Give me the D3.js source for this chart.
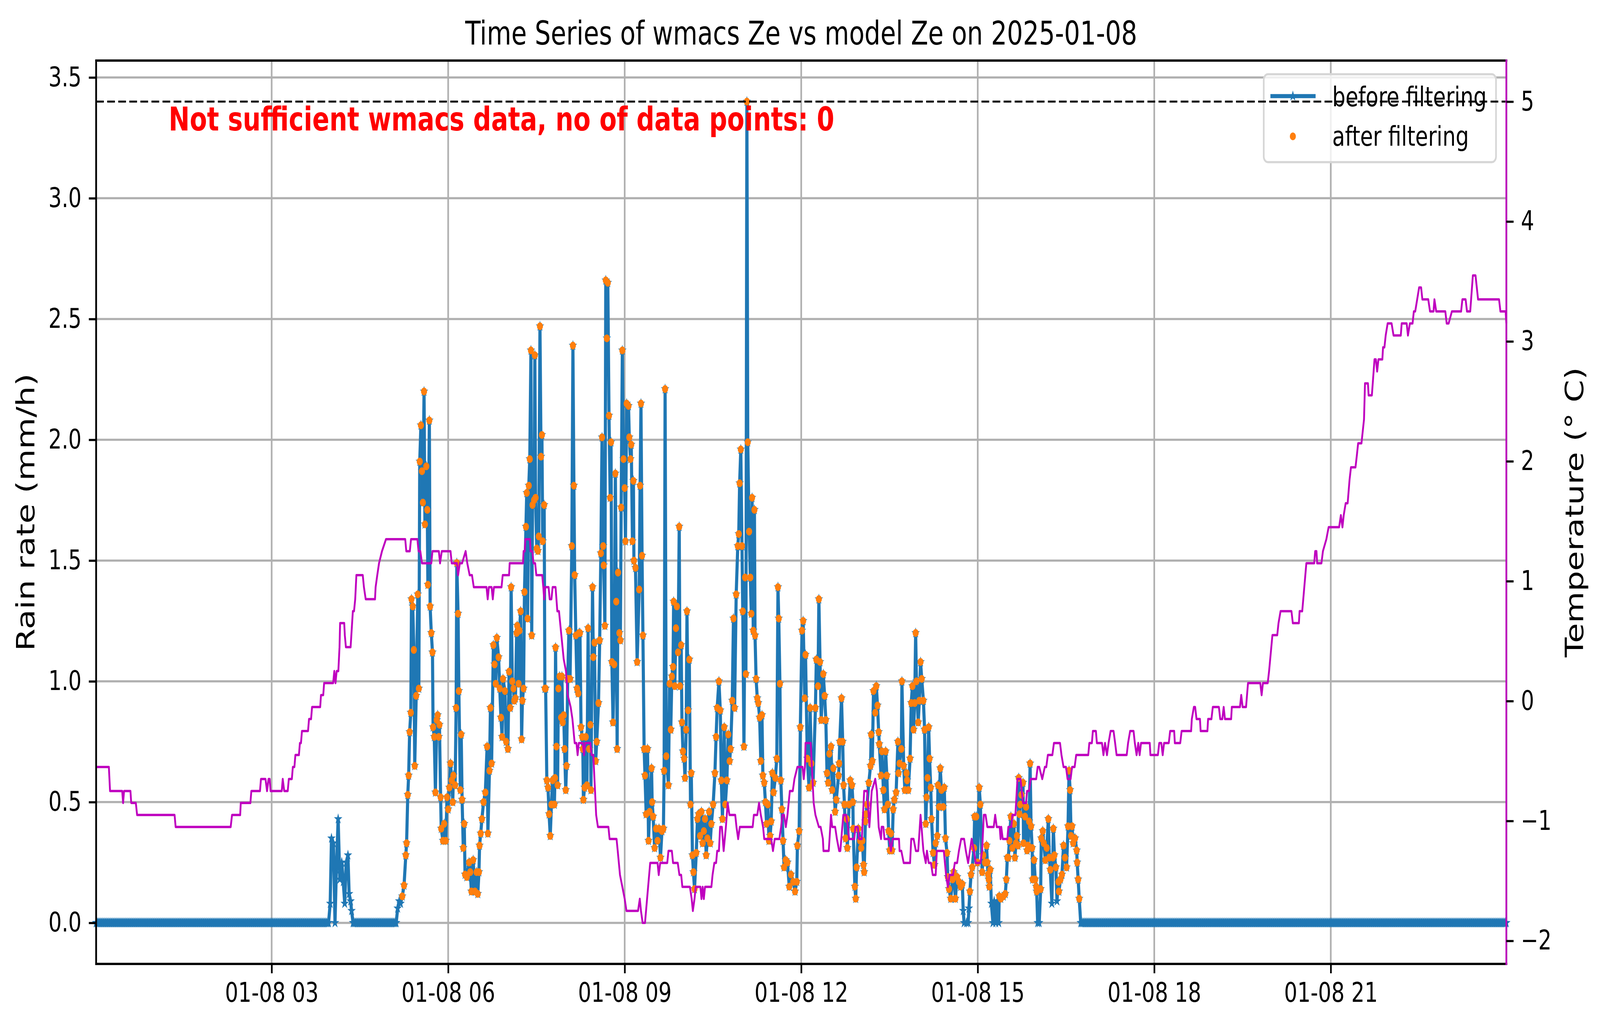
<!DOCTYPE html>
<html>
<head>
<meta charset="utf-8">
<script src="https://cdn.jsdelivr.net/npm/d3@7"></script>
<style>
  html, body { margin: 0; padding: 0; background: #fff; overflow: hidden; }
  #chart svg { display: block; width: 100vw; height: 100vh; }
  text { font-family: "DejaVu Sans", sans-serif; }
</style>
</head>
<body>
<div id="chart"></div>
<script>

// ---- data (minutes after midnight, 2025-01-08) ----

var dayStart = new Date(2025, 0, 8, 0, 0, 0);
var timeDomain = [1, 1439];

// stretches where the gauge reads exactly 0 (one sample per minute)
var zeroRuns = [[1, 238], [263, 307], [1005, 1439]];

// rain rate (mm/h)
var rainSeries = [
  [239.7,0.08],[241,0.35],[243,0.33],[244.6,0],[246,0.22],[247.8,0.43],[249.5,0.18],[251.5,0.25],
  [253,0.17],[254.5,0.08],[256,0.25],[257.8,0.28],[259,0.12],[260.5,0.09],[261.5,0.05],
  [308.5,0.06],[310,0.09],[311.5,0.08],[313.2,0.11],[315,0.155],[316.8,0.28],[317.6,0.33],[318.8,0.53],
  [319.7,0.61],[320.7,0.79],[321.9,0.87],[322.6,1.34],[323.9,1.31],[325,1.13],[325.9,0.65],[327.4,0.94],
  [329,1.36],[330.1,0.97],[331,1.91],[332.2,2.06],[333.3,1.87],[334.2,1.74],[335.4,2.2],[336.3,1.65],
  [337.7,1.89],[338.7,1.71],[339.3,1.4],[340.8,2.08],[341.6,1.31],[342.8,1.2],[344,1.12],[344.6,0.81],
  [345.8,0.77],[347,0.54],[348.4,0.84],[349.3,0.86],[350.5,0.77],[351.1,0.82],[352.3,0.52],[352.9,0.39],
  [354.7,0.34],[355.9,0.41],[357.6,0.34],[358.8,0.52],[360,0.47],[361.2,0.56],[362.4,0.66],[363.6,0.59],
  [364.7,0.5],[365.3,0.61],[367.1,0.57],[368.1,0.89],[368.8,1.49],[370.1,1.28],[370.9,0.96],[372.4,0.55],
  [373.3,0.78],[374.2,0.51],[375.4,0.31],[376.4,0.41],[377.2,0.2],[379,0.19],[381.3,0.25],[382.5,0.21],
  [383.7,0.13],[385.5,0.26],[387.3,0.13],[389,0.21],[390.2,0.12],[391.4,0.21],[392,0.32],[393.2,0.37],
  [394.4,0.43],[396.1,0.5],[397.9,0.54],[399.7,0.73],[400.5,0.37],[402.1,0.63],[403.1,0.89],[404.3,0.66],
  [406.1,1.15],[407.3,1.07],[408.5,0.99],[409.6,1.18],[411.4,1.1],[412.6,0.97],[413.8,0.85],[415,0.77],
  [415.9,1.01],[417.9,0.96],[419.1,0.75],[420.9,0.72],[422.1,1.04],[423.3,0.89],[424.2,1.39],[425.4,1],
  [426.6,0.97],[427.4,0.92],[428.6,0.93],[429.8,1.2],[430.4,1.23],[431.8,0.99],[432.7,1.21],[433.9,1.29],
  [434.9,0.76],[435.7,0.92],[436.9,0.97],[437.8,1.37],[439.3,1.64],[440.1,1.78],[441,1.26],[442.2,1.81],
  [443.2,1.92],[444.4,2.37],[445.2,1.19],[446,1.73],[447.6,1.75],[448.4,2.35],[449.1,1.76],[450.3,1.55],
  [451.5,1.54],[452.4,1.6],[453.6,2.47],[454.7,1.93],[455.6,2.02],[456.4,1.58],[457.9,1.73],[458.6,0.97],
  [459.4,0.97],[460.6,0.59],[461.8,0.56],[462.9,0.45],[464.1,0.36],[465.3,0.49],[466.5,0.59],[468.3,0.49],
  [468.9,0.6],[469.5,1.14],[470.4,0.73],[471.6,0.57],[472.4,0.97],[473.6,1.02],[475.2,0.85],[476,1.02],
  [476.8,0.83],[477.8,0.86],[478.7,0.72],[479.9,0.55],[480.7,0.65],[481.9,1.01],[483.1,1.21],[484.3,1.01],
  [486.1,1.56],[487.2,2.39],[488.2,1.81],[489,1.44],[490.2,1.19],[491.4,0.97],[492.6,0.95],[493.4,1.2],
  [494.4,1.2],[495.5,0.81],[496.7,0.77],[497.3,0.72],[497.9,0.51],[499.1,0.56],[500.3,0.77],[501.5,0.57],
  [502.7,1.22],[503.8,0.72],[505,0.82],[505.6,0.55],[507.2,1.39],[508,1.1],[509.2,1.16],[510.4,0.67],
  [511.5,0.75],[513.3,0.91],[514.5,1.17],[515.7,1.53],[516.9,2.01],[518.1,1.56],[518.6,1.48],[519.8,1.23],
  [520.7,2.66],[521.8,2.42],[522.8,2.65],[524,2.1],[525.2,1.76],[526.1,1.99],[526.9,1.08],[528.1,0.83],
  [529.3,1.07],[530.5,1.86],[531.4,1.33],[532.3,0.72],[533.2,1.45],[534.6,1.2],[535.6,1.17],[536.4,1.72],
  [537.6,2.37],[538.8,1.92],[540,1.8],[540.8,1.58],[542,2.15],[543.9,2.14],[544.7,2.01],[545.9,1.92],
  [546.7,1.98],[547.9,1.58],[548.9,1.83],[549.4,1.5],[551,1.47],[552.7,1.08],[554.8,1.38],[555.7,1.81],
  [556.6,2.15],[557.7,1.52],[558.6,1.19],[559.8,0.72],[560.7,0.61],[561.9,0.45],[563.3,0.72],[564.3,0.34],
  [565.4,0.46],[567.4,0.64],[568,0.5],[569,0.44],[570.5,0.31],[572,0.39],[573.5,0.34],[575,0.39],
  [576.5,0.27],[578,0.38],[579.5,0.39],[580.2,0.63],[581.2,2.21],[582.4,0.69],[584.6,0.57],[585.8,0.99],
  [587,0.8],[588.1,1.02],[589.3,1.06],[589.9,1.33],[591.1,0.98],[592.3,1.22],[593.2,1.31],[594.4,1.12],
  [595.6,1.64],[596.4,0.98],[597.6,1.15],[598.4,0.83],[599.4,0.71],[600.6,0.68],[601.5,0.6],[602.7,0.8],
  [603.5,1.29],[604.7,0.88],[605.9,1.09],[607.1,0.49],[607.9,0.62],[609.1,0.28],[610.1,0.21],[611.2,0.14],
  [613,0.29],[614.2,0.43],[615.4,0.45],[616.9,0.36],[618.3,0.46],[619.5,0.33],[620.7,0.38],[621.9,0.43],
  [623.1,0.28],[624.3,0.35],[626.1,0.46],[627.2,0.33],[628.4,0.41],[630.2,0.49],[632,0.62],[633.2,0.77],
  [634.3,0.89],[636.1,1],[637.5,0.88],[638.5,0.59],[639.7,0.43],[641.5,0.81],[642.6,0.49],[644.2,0.59],
  [645.6,0.78],[647,0.67],[648,0.72],[649.7,0.92],[650.9,1.26],[652.1,0.89],[653.7,1.36],[655.3,1.56],
  [656.3,1.61],[657.2,1.82],[658.4,1.96],[659.6,1.56],[660.4,1.29],[661.6,0.73],[662.8,1.43],[663.6,1.03],
  [664.6,3.4],[665.5,1.99],[666.9,1.62],[668.1,1.43],[669.1,1.28],[669.9,1.76],[671.1,1.21],[672.3,1.71],
  [672.9,1.19],[674,1.01],[675.2,0.93],[676.2,0.91],[677.6,0.85],[678.8,0.67],[680,0.86],[680.9,0.61],
  [682.3,0.58],[683.5,0.5],[684.7,0.41],[685.9,0.49],[687.1,0.34],[688.3,0.36],[689.4,0.42],[690.6,0.62],
  [691.8,0.54],[693.6,0.6],[695.1,0.68],[696.3,1.39],[697.1,1.26],[698.3,0.99],[699.2,0.59],[700.3,0.47],
  [701.5,0.34],[702.5,0.23],[704.2,0.26],[706,0.25],[707.8,0.15],[709.6,0.2],[711.9,0.17],[713.7,0.13],
  [715.5,0.17],[716.1,0.32],[717.9,0.38],[719.1,0.81],[720.8,1.21],[722,1.25],[723.6,0.93],[724.4,1.11],
  [726.2,0.68],[728,0.56],[729.1,0.89],[730.3,0.66],[732.1,0.58],[734.5,0.89],[735.4,1.09],[737.1,0.98],
  [738,1.34],[739.2,1.08],[740.4,0.84],[742.5,1.03],[743.9,0.94],[745.1,0.84],[746.3,0.62],[747.5,0.58],
  [748.7,0.7],[750.4,0.73],[751.6,0.55],[752.8,0.64],[754.6,0.46],[755.8,0.51],[758.1,0.61],[758.7,0.66],
  [759.3,0.75],[761.1,0.93],[762.3,0.75],[763.2,0.57],[764.1,0.49],[765.2,0.35],[766.4,0.43],[767,0.31],
  [768.8,0.49],[770,0.59],[771.8,0.57],[772.7,0.5],[773,0.39],[774.7,0.15],[775.6,0.1],[776.5,0.23],
  [778.3,0.39],[780.1,0.34],[781.2,0.31],[782.4,0.34],[783.6,0.24],[784.2,0.21],[785.4,0.42],[786,0.45],
  [787.2,0.49],[788.9,0.58],[790.7,0.65],[791.3,0.78],[792.5,0.67],[793.7,0.96],[795.5,0.87],[796.6,0.98],
  [797.8,0.9],[799,0.79],[799.6,0.74],[801.4,0.61],[802.3,0.71],[803.8,0.55],[804.9,0.47],[806.1,0.71],
  [807.3,0.61],[808.3,0.49],[809.1,0.38],[810.3,0.3],[811.5,0.37],[812.6,0.3],[813.8,0.47],[815,0.51],
  [816.8,0.54],[818.6,0.75],[819.2,0.62],[820.3,0.66],[822.1,0.72],[822.7,1],[824.5,0.65],[825.7,0.55],
  [827.4,0.62],[828,0.59],[829.2,0.55],[831,0.68],[832.2,0.91],[833.4,0.98],[834.6,0.8],[835.7,0.91],
  [836.7,1.2],[837.5,1],[839.3,0.83],[840.5,0.92],[841.7,1.08],[842.9,1.01],[844.6,0.92],[845.8,0.8],
  [847,0.41],[847.8,0.52],[848.8,0.6],[850,0.81],[850.9,0.68],[852.1,0.56],[852.9,0.43],[854.5,0.29],
  [855.9,0.24],[857.1,0.33],[858.8,0.36],[859.4,0.57],[860.6,0.48],[861.8,0.64],[863,0.55],[864.8,0.48],
  [865.9,0.56],[867.1,0.35],[868.7,0.29],[869.5,0.19],[870.7,0.14],[872.5,0.1],[874.3,0.18],[875.4,0.21],
  [877.2,0.1],[879,0.19],[880.8,0.17],[882.5,0.15],[884.3,0.16],[885.2,0.05],[886.1,0],[888.5,0],
  [890.2,0],[891,0.06],[892,0.13],[893.2,0.2],[894.4,0.23],[896.2,0.31],[896.8,0.44],[898.5,0.44],
  [899.7,0.25],[901.5,0.56],[902.7,0.49],[904.5,0.21],[905.6,0.28],[907.4,0.25],[909,0.32],[909.8,0.25],
  [910.5,0.2],[911.2,0.18],[911.8,0.15],[912.8,0.22],[913.9,0.08],[915.5,0],[916.8,0.09],[918.3,0],
  [919.9,0.09],[921.4,0],[921.9,0.11],[923.5,0.1],[926.1,0.11],[928.1,0.12],[929.2,0.18],[930.2,0.27],
  [931.2,0.27],[932.3,0.34],[933.8,0.44],[935.3,0.31],[936.9,0.41],[937.9,0.27],[939,0.33],[940,0.36],
  [941,0.32],[941.8,0.6],[942.6,0.45],[943.4,0.49],[944.6,0.53],[946.2,0.58],[946.7,0.33],[948.2,0.44],
  [949.3,0.48],[950.3,0.3],[951.3,0.32],[952.4,0.42],[953.4,0.66],[954.4,0.4],[955.5,0.31],[956,0.18],
  [957.5,0.26],[958.6,0.18],[959.6,0.15],[960.1,0.13],[961.1,0],[962.7,0],[964.2,0.14],[964.8,0.35],
  [966.3,0.38],[967.3,0.33],[968.9,0.26],[970.4,0.31],[972,0.43],[973,0.27],[974,0.22],[975.6,0.08],
  [976.6,0.27],[977.1,0.39],[978.2,0.28],[979.7,0.23],[980.8,0.09],[982.3,0.17],[982.8,0.13],[984.4,0.18],
  [985.9,0.2],[987.5,0.32],[989,0.27],[990.6,0.23],[992.1,0.4],[993.1,0.63],[994.2,0.55],[995.2,0.36],
  [996.2,0.4],[997.3,0.33],[999.3,0.35],[1000.9,0.3],[1001.4,0.25],[1002.4,0.18],[1003.5,0.1]
];

// model temperature (deg C)
var tempSeries = [
  [1,-0.55],[14,-0.55],[15.2,-0.75],[27.6,-0.75],[28.5,-0.85],[29.5,-0.75],[36,-0.75],[36.8,-0.85],
  [41.5,-0.85],[42.8,-0.95],[81,-0.95],[82.1,-1.05],[138.2,-1.05],[139.6,-0.95],[147.9,-0.95],[148.5,-0.85],
  [158.3,-0.85],[159.3,-0.75],[168.1,-0.75],[169.1,-0.65],[173.7,-0.65],[175.3,-0.75],[176.8,-0.65],[178,-0.65],
  [178.9,-0.75],[190.3,-0.75],[191.3,-0.65],[192.8,-0.75],[196.4,-0.75],[197.5,-0.65],[200.6,-0.65],[201.6,-0.55],
  [203.2,-0.55],[204.2,-0.45],[207.8,-0.45],[208.8,-0.35],[209.9,-0.35],[210.9,-0.25],[217.1,-0.25],[218.1,-0.15],
  [220.2,-0.15],[221.2,-0.05],[229.5,-0.05],[230.3,0.05],[232.6,0.05],[233.5,0.15],[242.7,0.15],[243.9,0.25],
  [245.1,0.15],[246.3,0.25],[248,0.25],[249.2,0.45],[249.8,0.65],[254,0.65],[254.6,0.55],[255.7,0.45],
  [260.5,0.45],[262.8,0.75],[264,0.75],[265.2,0.85],[266.4,1.05],[272.9,1.05],[274.1,0.95],[275.9,0.85],
  [285.4,0.85],[286,0.95],[287.7,1.05],[289.5,1.15],[292.5,1.25],[296.6,1.35],[316.2,1.35],[317.3,1.25],
  [320.9,1.25],[322.1,1.35],[328.6,1.35],[329.8,1.25],[331.6,1.25],[333.3,1.15],[342.8,1.15],[344,1.25],
  [350.5,1.25],[351.7,1.15],[353.5,1.25],[362.4,1.25],[363.6,1.15],[368.9,1.15],[370.1,1.05],[371.9,1.15],
  [374.2,1.15],[377.8,1.25],[379.5,1.15],[381.9,1.05],[384.3,1.05],[386.1,0.95],[399.1,0.95],[400.3,0.85],
  [401.5,0.95],[404.3,0.95],[405.5,0.85],[406.7,0.95],[414.4,0.95],[415.6,1.05],[422.1,1.05],[422.7,1.15],
  [436.3,1.15],[436.9,1.25],[438.1,1.25],[438.7,1.35],[443.4,1.35],[444,1.25],[445.8,1.25],[447,1.15],
  [448.7,1.15],[449.9,1.05],[455.9,1.05],[457,0.95],[457.9,0.85],[458.8,0.95],[462.4,0.95],[463.5,0.85],
  [465.3,0.85],[466.5,0.95],[469.5,0.95],[471.3,0.75],[473,0.75],[475.4,0.55],[477.8,0.35],[480.1,0.25],
  [481.9,0.05],[484.9,-0.05],[486.7,-0.15],[489,-0.35],[490.8,-0.35],[492,-0.45],[493.2,-0.35],[497.3,-0.35],
  [498.5,-0.45],[499.7,-0.35],[505,-0.35],[506.2,-0.45],[508,-0.45],[510.9,-0.95],[512.7,-1.05],[523.4,-1.05],
  [524.6,-1.15],[531.7,-1.15],[532.9,-1.25],[535.2,-1.45],[537.6,-1.55],[540,-1.65],[541.8,-1.75],[553.6,-1.75],
  [555.4,-1.65],[556.6,-1.75],[558.3,-1.85],[560.7,-1.85],[566,-1.35],[573.5,-1.35],[574.7,-1.45],[576.2,-1.35],
  [583.4,-1.35],[584.6,-1.25],[588.1,-1.25],[589.3,-1.35],[594.1,-1.35],[595.8,-1.45],[597.6,-1.45],[598.8,-1.55],
  [606.5,-1.55],[608.3,-1.65],[609.5,-1.75],[611.2,-1.65],[612.4,-1.55],[617.2,-1.55],[618.3,-1.65],[619.5,-1.55],
  [620.7,-1.65],[621.9,-1.55],[628.4,-1.55],[629.6,-1.45],[631.4,-1.35],[633.2,-1.35],[634.3,-1.25],[636.1,-1.25],
  [637.3,-1.05],[639.1,-1.05],[640.9,-1.25],[643.2,-1.05],[645,-0.85],[646.8,-0.95],[652.7,-0.95],[654,-1.05],
  [655.7,-1.15],[657.4,-1.05],[670.5,-1.05],[671.7,-0.95],[675.2,-0.95],[677,-0.85],[678.8,-0.95],[681.1,-1.05],
  [682.3,-1.15],[689.4,-1.15],[691.2,-1.25],[693,-1.15],[697.7,-1.15],[699.5,-1.05],[700.7,-0.95],[702.5,-0.95],
  [704.3,-1.05],[706,-0.95],[708.4,-0.75],[711.4,-0.75],[713.1,-0.65],[716.1,-0.55],[721.4,-0.55],[722.6,-0.65],
  [723.8,-0.55],[724.4,-0.35],[729.7,-0.35],[732.7,-0.85],[734.5,-0.95],[738,-1.05],[739.8,-1.05],[742.1,-1.15],
  [742.7,-1.25],[748.1,-1.25],[750.4,-0.95],[751.6,-1.05],[754.6,-1.05],[756.4,-1.15],[758.7,-1.25],[759.9,-1.25],
  [762.9,-0.95],[765.8,-0.95],[767.6,-1.05],[768.8,-1.15],[774.1,-1.15],[775.3,-1.05],[777.7,-1.05],[778.9,-1.15],
  [781.8,-1.15],[784.2,-0.75],[787.2,-0.75],[789.5,-1.05],[791.9,-0.75],[795.5,-0.65],[797.2,-0.75],[799,-1.05],
  [801.4,-1.15],[802,-1.05],[803.8,-1.05],[804.9,-1.15],[809.7,-1.15],[811.5,-1.25],[813.2,-1.15],[819.7,-1.15],
  [820.3,-1.25],[822.1,-1.25],[824.5,-1.35],[831,-1.35],[832.2,-1.15],[834.6,-1.15],[836.9,-1.25],[839.3,-1.25],
  [841.7,-0.95],[844.6,-1.25],[847,-1.35],[848.2,-1.25],[850,-1.35],[852.3,-1.35],[854.1,-1.45],[857.1,-1.45],
  [858.3,-1.25],[865.4,-1.25],[867.7,-1.45],[869.5,-1.55],[871.3,-1.45],[874.8,-1.45],[876.6,-1.35],[879,-1.35],
  [880.8,-1.25],[883.1,-1.15],[886.1,-1.15],[887.9,-1.25],[890.2,-1.35],[892,-1.25],[893.8,-1.15],[896.2,-1.25],
  [897.9,-1.35],[902.7,-1.35],[904.5,-1.25],[906.2,-0.95],[908,-0.95],[909.8,-1.05],[916.3,-1.05],[917.8,-0.95],
  [919.4,-1.05],[922.4,-1.05],[923.3,-1.15],[924,-1.05],[925.5,-1.15],[930.2,-1.15],[931.2,-1.05],[934.3,-1.05],
  [935.3,-0.95],[938.4,-0.95],[940.5,-0.65],[943.6,-0.65],[946.2,-0.85],[949.3,-0.85],[950.3,-0.75],[952.4,-0.75],
  [953.9,-0.65],[959.6,-0.65],[961.1,-0.55],[962.7,-0.55],[965.8,-0.65],[968.4,-0.55],[969.9,-0.55],[971.5,-0.45],
  [976.1,-0.45],[977.7,-0.35],[983.9,-0.35],[985.4,-0.45],[987.5,-0.55],[990,-0.55],[991.6,-0.65],[994.7,-0.65],
  [996.2,-0.55],[998.8,-0.55],[1000.4,-0.45],[1012.7,-0.45],[1013.8,-0.35],[1016.4,-0.35],[1017.4,-0.25],[1020.5,-0.25],
  [1021.5,-0.35],[1026.7,-0.35],[1028.2,-0.45],[1029.8,-0.35],[1031.8,-0.45],[1033.4,-0.35],[1035.5,-0.25],[1038.5,-0.25],
  [1040.1,-0.35],[1041.6,-0.45],[1051.9,-0.45],[1053.3,-0.35],[1055.4,-0.25],[1058.9,-0.25],[1060.2,-0.35],[1062,-0.45],
  [1063.7,-0.35],[1065.1,-0.45],[1066.5,-0.35],[1075.4,-0.35],[1076.1,-0.45],[1083.7,-0.45],[1085.1,-0.35],[1087.2,-0.35],
  [1088.6,-0.45],[1090,-0.35],[1094.8,-0.35],[1096.2,-0.25],[1100.3,-0.25],[1101,-0.35],[1106.5,-0.35],[1107.9,-0.25],
  [1117.6,-0.25],[1118.3,-0.15],[1120.4,-0.05],[1121.7,-0.05],[1123.1,-0.15],[1126.6,-0.15],[1127.3,-0.25],[1134.2,-0.25],
  [1134.9,-0.15],[1138.3,-0.15],[1139.7,-0.05],[1145.9,-0.05],[1147.3,-0.15],[1149.4,-0.15],[1150.8,-0.05],[1152.1,-0.15],
  [1158.4,-0.15],[1159.1,-0.05],[1167.4,-0.05],[1168.7,0.05],[1170.1,-0.05],[1173.6,-0.05],[1175.6,0.15],[1188.1,0.15],
  [1189.5,0.05],[1190.8,0.15],[1195.7,0.15],[1197.1,0.25],[1200.5,0.55],[1205.4,0.55],[1206.7,0.65],[1208.8,0.75],
  [1219.9,0.75],[1221.3,0.65],[1227.5,0.65],[1228.2,0.75],[1230.9,0.75],[1235.1,1.15],[1243.1,1.15],[1244.1,1.25],
  [1245.4,1.25],[1246.1,1.15],[1250.5,1.15],[1252,1.25],[1255.5,1.35],[1257.8,1.45],[1268.5,1.45],[1270.3,1.55],
  [1271.9,1.45],[1273.2,1.55],[1275.2,1.65],[1277.2,1.65],[1279.2,1.85],[1280.6,1.95],[1285.2,1.95],[1286.6,2.05],
  [1287.9,2.15],[1291.3,2.15],[1293.9,2.35],[1294.9,2.65],[1297.9,2.65],[1298.6,2.55],[1301.9,2.55],[1304.6,2.85],
  [1306,2.85],[1307.3,2.75],[1308.6,2.85],[1312.6,2.85],[1313.3,2.95],[1314.7,2.95],[1316,3.05],[1318,3.15],
  [1322,3.15],[1324,3.05],[1331.4,3.05],[1332.3,3.15],[1337.4,3.15],[1338.7,3.05],[1340.7,3.15],[1343.4,3.15],
  [1344.7,3.25],[1346.1,3.25],[1348.1,3.35],[1350.1,3.45],[1352.1,3.45],[1353.4,3.35],[1359.4,3.35],[1361.2,3.25],
  [1364.8,3.25],[1365.7,3.35],[1367.5,3.25],[1376.8,3.25],[1378.2,3.15],[1380.2,3.15],[1383.5,3.25],[1392.9,3.25],
  [1394.2,3.35],[1397.5,3.35],[1398.9,3.25],[1402.2,3.25],[1404.9,3.55],[1407.6,3.55],[1408.9,3.45],[1410.2,3.35],
  [1431.6,3.35],[1433,3.25],[1438.3,3.25],[1439,3.15]
];

var rainTicks = [0, 0.5, 1, 1.5, 2, 2.5, 3, 3.5];
var tempTicks = [-2, -1, 0, 1, 2, 3, 4, 5];
var tempLimit = 5;                 // dashed reference line, deg C
var filterMin = 0.1;               // kept by the filter
var filterWindow = [305, 1004];
var legendLabels = ["before filtering", "after filtering"];
var titleText = "Time Series of wmacs Ze vs model Ze on 2025-01-08";
var warningText = "Not sufficient wmacs data, no of data points: 0";
var rainLabel = "Rain rate (mm/h)";
var tempLabel = "Temperature (\u00b0 C)";

// ---- build the full series ----

var rainAll = [];
zeroRuns.forEach(function(r){
	for (var m = r[0]; m <= r[1]; m++) rainAll.push([m, 0]);
});
rainSeries.forEach(function(p){ rainAll.push(p); });
rainAll.sort(function(a, b){ return a[0] - b[0]; });

var rainKept = rainAll.filter(function(p){
	return p[1] >= filterMin && p[0] >= filterWindow[0] && p[0] <= filterWindow[1];
});

function toDate(m){ return new Date(dayStart.getTime() + m * 60000); }

// ---- layout ----

var W = 5277, H = 2631;
var L = 317, R = 4968, T = 155, B = 2467;
var tickFont = 68.75, bigFont = 83;
var tickLen = 24, tickPad = 24;

// fill the whole window whatever its css size is
var svg = d3.select("#chart").append("svg")
			.attr("viewBox", "0 0 " + W + " " + H)
			.attr("preserveAspectRatio", "none")
			.style("background", "#fff");

var x = d3.scaleTime()
		.domain([toDate(timeDomain[0]), toDate(timeDomain[1])])
		.range([L, R]);

// matplotlib style 5% margins
function padded(ext){
	var s = ext[1] - ext[0];
	return [ext[0] - 0.05 * s, ext[1] + 0.05 * s];
}
var rainExt = d3.extent(rainAll, function(d){ return d[1]; });
var tempExt = d3.extent(tempSeries.map(function(d){ return d[1]; }).concat([tempLimit]));

var yRain = d3.scaleLinear().domain(padded(rainExt)).range([B, T]);
var yTemp = d3.scaleLinear().domain(padded(tempExt)).range([B, T]);

var xTicks = x.ticks(d3.timeHour.every(3));

// grid
var grid = svg.append("g");
grid.selectAll("line.gx").data(xTicks).enter().append("line")
	.attr("x1", function(d){ return x(d); })
	.attr("x2", function(d){ return x(d); })
	.attr("y1", T).attr("y2", B)
	.style("stroke", "#b0b0b0").style("stroke-width", 5.5);
grid.selectAll("line.gy").data(rainTicks).enter().append("line")
	.attr("x1", L).attr("x2", R)
	.attr("y1", function(d){ return yRain(d); })
	.attr("y2", function(d){ return yRain(d); })
	.style("stroke", "#b0b0b0").style("stroke-width", 5.5);

// before filtering: line with star markers
var rainLine = d3.line()
		.x(function(d){ return x(toDate(d[0])); })
		.y(function(d){ return yRain(d[1]); });

svg.append("path")
	.datum(rainAll)
	.attr("d", rainLine)
	.style("fill", "none")
	.style("stroke", "#1f77b4")
	.style("stroke-width", 10.3)
	.style("stroke-linejoin", "round");

var star = d3.symbol().type(d3.symbolStar).size(105);
svg.append("g").selectAll("path").data(rainAll).enter().append("path")
	.attr("d", star)
	.attr("transform", function(d){ return "translate(" + x(toDate(d[0])) + "," + yRain(d[1]) + ")"; })
	.style("fill", "#1f77b4")
	.style("stroke", "#1f77b4")
	.style("stroke-width", 3);

// after filtering: dots
svg.append("g").selectAll("circle").data(rainKept).enter().append("circle")
	.attr("cx", function(d){ return x(toDate(d[0])); })
	.attr("cy", function(d){ return yRain(d[1]); })
	.attr("r", 9)
	.style("fill", "#ff7f0e")
	.style("stroke", "#ff7f0e")
	.style("stroke-width", 2);

// warning text
svg.append("text")
	.attr("x", x(toDate(75)))
	.attr("y", yRain(3.28))
	.attr("font-size", bigFont)
	.style("font-weight", "bold")
	.style("fill", "red")
	.text(warningText);

// legend
var lg = svg.append("g");
lg.append("rect")
	.attr("x", 4168).attr("y", 190)
	.attr("width", 766).attr("height", 225)
	.attr("rx", 14)
	.style("fill", "#fff").style("fill-opacity", 0.8)
	.style("stroke", "#d6d6d6").style("stroke-width", 5.5);
lg.append("line")
	.attr("x1", 4190).attr("x2", 4339)
	.attr("y1", 246).attr("y2", 246)
	.style("stroke", "#1f77b4").style("stroke-width", 10.3);
lg.append("path")
	.attr("d", star)
	.attr("transform", "translate(4264,246)")
	.style("fill", "#1f77b4").style("stroke", "#1f77b4").style("stroke-width", 3);
lg.append("circle")
	.attr("cx", 4264).attr("cy", 349).attr("r", 9)
	.style("fill", "#ff7f0e").style("stroke", "#ff7f0e").style("stroke-width", 2);
lg.selectAll("text").data(legendLabels).enter().append("text")
	.attr("x", 4394)
	.attr("y", function(d, i){ return 272 + i * 101; })
	.attr("font-size", tickFont)
	.text(function(d){ return d; });

// spines of one axes; the right one may be coloured
function spines(g, rightColor){
	g.append("line").attr("x1", L).attr("x2", L).attr("y1", T).attr("y2", B).style("stroke", "#000");
	g.append("line").attr("x1", L).attr("x2", R).attr("y1", B).attr("y2", B).style("stroke", "#000");
	g.append("line").attr("x1", L).attr("x2", R).attr("y1", T).attr("y2", T).style("stroke", "#000");
	g.append("line").attr("x1", R).attr("x2", R).attr("y1", T).attr("y2", B).style("stroke", rightColor);
	g.selectAll("line").style("stroke-width", 5.5).style("stroke-linecap", "square");
}
spines(svg.append("g"), "#000");

// second axes: temperature
var tempLine = d3.line()
		.x(function(d){ return x(toDate(d[0])); })
		.y(function(d){ return yTemp(d[1]); });

svg.append("path")
	.datum(tempSeries)
	.attr("d", tempLine)
	.style("fill", "none")
	.style("stroke", "#bf00bf")
	.style("stroke-width", 6)
	.style("stroke-linejoin", "round");

svg.append("line")
	.attr("x1", L).attr("x2", R)
	.attr("y1", yTemp(tempLimit)).attr("y2", yTemp(tempLimit))
	.style("stroke", "#000")
	.style("stroke-width", 5)
	.style("stroke-dasharray", "25.5,11");

spines(svg.append("g"), "#bf00bf");

// axes
var fmtX = d3.timeFormat("%m-%d %H");

var ax = svg.append("g")
		.attr("transform", "translate(0," + B + ")")
		.call(d3.axisBottom(x).tickValues(xTicks).tickFormat(fmtX)
			.tickSize(tickLen).tickPadding(tickPad).tickSizeOuter(0));

var ayl = svg.append("g")
		.attr("transform", "translate(" + L + ",0)")
		.call(d3.axisLeft(yRain).tickValues(rainTicks).tickFormat(d3.format(".1f"))
			.tickSize(tickLen).tickPadding(tickPad).tickSizeOuter(0));

var ayr = svg.append("g")
		.attr("transform", "translate(" + R + ",0)")
		.call(d3.axisRight(yTemp).tickValues(tempTicks).tickFormat(d3.format("d"))
			.tickSize(tickLen).tickPadding(tickPad).tickSizeOuter(0));

[ax, ayl, ayr].forEach(function(g){
	g.select(".domain").remove();
	g.selectAll(".tick line").style("stroke", "#000").style("stroke-width", 5.5);
	g.selectAll(".tick text")
		.attr("font-size", tickFont)
		.attr("font-family", "DejaVu Sans")
		.style("fill", "#000");
});

// titles
svg.append("text")
	.attr("x", (L + R) / 2)
	.attr("y", 114)
	.attr("text-anchor", "middle")
	.attr("font-size", bigFont)
	.text(titleText);

svg.append("text")
	.attr("transform", "translate(113," + (T + B) / 2 + ") rotate(-90)")
	.attr("text-anchor", "middle")
	.attr("font-size", bigFont)
	.text(rainLabel);

svg.append("text")
	.attr("transform", "translate(5222," + (T + B) / 2 + ") rotate(-90)")
	.attr("text-anchor", "middle")
	.attr("font-size", bigFont)
	.text(tempLabel);

</script>
</body>
</html>
